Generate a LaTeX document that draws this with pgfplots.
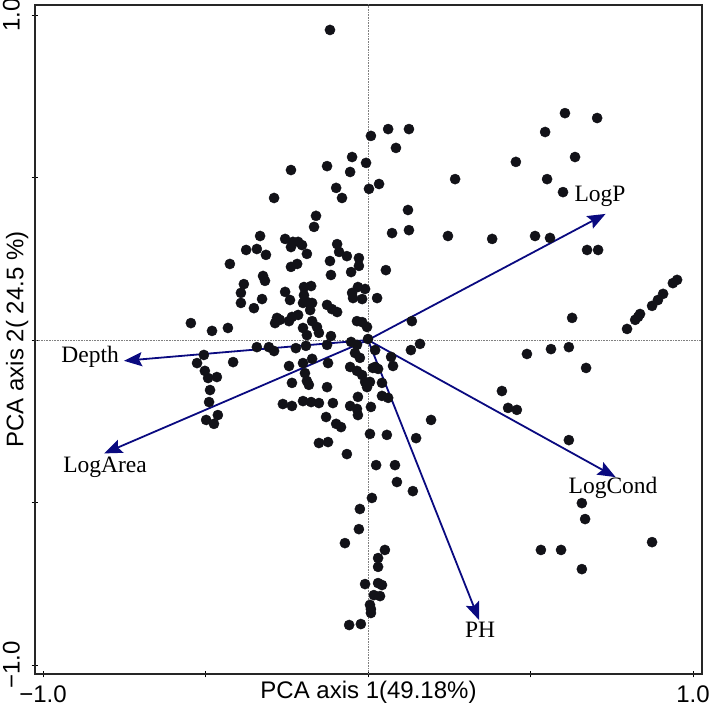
\documentclass[border=0pt]{standalone}
\usepackage{pgfplots}
\pgfplotsset{compat=1.18}
\usepackage{pgfplotstable}
\usepackage{fontspec}
\setmainfont{Liberation Sans}
\newfontfamily\seriffont{Liberation Serif}
\usetikzlibrary{arrows.meta}
\definecolor{ptcol}{RGB}{18,18,24}
\definecolor{arrcol}{RGB}{10,10,128}

\pgfplotstableread{
x y
0.009 0.628
-0.049 0.563
-0.006 0.545
-0.126 0.535
-0.237 0.523
-0.055 0.517
0.034 0.480
-0.098 0.468
-0.080 0.437
-0.289 0.437
-0.160 0.382
-0.166 0.348
-0.332 0.320
-0.255 0.311
-0.231 0.302
-0.215 0.302
-0.203 0.292
-0.237 0.286
-0.188 0.265
-0.375 0.277
-0.342 0.280
-0.314 0.262
-0.095 0.295
-0.089 0.271
-0.065 0.258
-0.028 0.252
-0.028 0.228
-0.425 0.234
-0.237 0.225
-0.218 0.234
-0.117 0.243
-0.114 0.200
-0.052 0.209
-0.323 0.197
-0.317 0.182
-0.382 0.172
-0.391 0.145
-0.391 0.114
-0.351 0.098
-0.326 0.126
-0.255 0.148
-0.240 0.123
-0.197 0.163
-0.175 0.166
-0.197 0.138
-0.188 0.117
-0.172 0.114
-0.178 0.092
-0.200 0.114
-0.126 0.108
-0.111 0.095
-0.095 0.086
-0.031 0.163
-0.009 0.157
-0.049 0.145
-0.046 0.129
-0.018 0.126
0.028 0.129
-0.545 0.052
-0.480 0.028
-0.431 0.037
-0.280 0.068
-0.286 0.052
-0.271 0.062
-0.243 0.058
-0.234 0.071
-0.215 0.077
-0.172 0.058
-0.200 0.037
-0.157 0.040
-0.188 0.015
-0.151 0.022
-0.114 0.012
-0.034 0.058
-0.018 0.055
-0.003 0.040
0.000 0.003
0.003 0.465
-0.342 -0.022
-0.305 -0.022
-0.289 -0.034
-0.222 -0.025
-0.191 -0.018
-0.126 -0.015
-0.052 -0.006
-0.034 -0.015
-0.505 -0.046
-0.526 -0.071
-0.415 -0.068
-0.243 -0.080
-0.200 -0.071
-0.172 -0.058
-0.123 -0.071
-0.025 -0.055
-0.040 -0.040
-0.502 -0.095
-0.492 -0.117
-0.465 -0.114
-0.194 -0.102
-0.055 -0.083
-0.034 -0.095
-0.018 -0.108
-0.009 -0.129
0.006 -0.129
-0.003 -0.145
0.022 -0.083
-0.188 -0.126
-0.182 -0.138
-0.486 -0.154
-0.234 -0.132
-0.126 -0.145
-0.489 -0.191
-0.262 -0.197
-0.234 -0.203
-0.200 -0.188
-0.175 -0.191
-0.151 -0.194
-0.108 -0.194
-0.031 -0.175
-0.055 -0.203
-0.034 -0.212
-0.031 -0.231
0.009 -0.206
-0.498 -0.246
-0.474 -0.258
-0.462 -0.231
-0.129 -0.237
-0.098 -0.258
-0.083 -0.268
0.006 -0.289
-0.151 -0.317
-0.123 -0.314
-0.065 -0.351
0.025 -0.385
0.012 -0.486
0.062 0.649
0.126 0.649
0.086 0.591
0.268 0.495
0.455 0.548
0.545 0.640
0.606 0.698
0.705 0.683
0.637 0.563
0.551 0.495
0.600 0.455
0.123 0.400
0.074 0.329
0.126 0.338
0.246 0.320
0.382 0.311
0.514 0.320
0.560 0.314
0.674 0.277
0.708 0.277
0.055 0.215
0.135 0.058
0.628 0.068
0.797 0.034
0.822 0.062
0.831 0.071
0.837 0.080
0.874 0.105
0.892 0.123
0.908 0.142
0.938 0.175
0.951 0.185
0.022 -0.031
0.132 -0.031
0.160 -0.012
0.071 -0.052
0.077 -0.080
0.015 -0.086
0.031 -0.089
0.043 -0.132
0.043 -0.172
0.062 -0.178
0.058 -0.292
0.148 -0.302
0.194 -0.246
0.489 -0.043
0.563 -0.028
0.618 -0.022
0.671 -0.086
0.412 -0.157
0.431 -0.209
0.458 -0.215
0.618 -0.308
0.083 -0.385
0.089 -0.437
0.138 -0.465
0.658 -0.502
0.668 -0.551
0.532 -0.646
0.594 -0.646
0.658 -0.705
0.874 -0.622
0.052 -0.646
0.031 -0.671
0.031 -0.698
0.031 -0.748
0.043 -0.754
0.018 -0.785
0.037 -0.788
0.006 -0.815
0.009 -0.840
0.009 -0.828
-0.025 -0.520
-0.028 -0.582
-0.071 -0.625
-0.009 -0.751
-0.058 -0.877
-0.022 -0.874
-0.117 0.954
}\pts

\begin{document}
\begin{tikzpicture}
\begin{axis}[
  scale only axis,
  width=667pt, height=669pt,
  xmin=-1.0246, xmax=1.0277,
  ymin=-1.0277, ymax=1.0308,
  axis line style={line width=1.1pt, black!85},
  xtick={-1,-0.5,0,0.5,1},
  ytick={-1,-0.5,0,0.5,1},
  xticklabels={−1.0,,,,1.0},
  yticklabels={−1.0,,,,1.0},
  tick pos=left,
  tick align=center,
  major tick length=7pt,
  tick style={line width=0.9pt, black},
  tick label style={font=\fontsize{24}{28}\selectfont, inner sep=0pt},
  xticklabel style={anchor=base},
  xticklabel shift=24.5pt,
  yticklabel style={rotate=90, anchor=south},
  yticklabel shift=11.5pt,
  label style={font=\fontsize{24}{28}\selectfont, inner sep=0pt},
  xlabel={PCA axis 1(49.18\%)},
  ylabel={PCA axis 2( 24.5 \%)},
  xlabel style={at={(axis description cs:0.5,-0.0366)}, anchor=base},
  ylabel style={at={(axis description cs:-0.01724,0.5)}, anchor=base, rotate=0},
]
\coordinate (SW) at (rel axis cs:0,0);
\coordinate (NE) at (rel axis cs:1,1);
\addplot[gray, line width=0.6pt, densely dotted, forget plot] coordinates {(0,-1.1) (0,1.1)};
\addplot[gray, line width=0.6pt, densely dotted, forget plot] coordinates {(-1.1,0) (1.1,0)};
\addplot[only marks, mark=*, mark size=5.1pt, mark options={fill=ptcol, draw=ptcol, line width=0.4pt}] table[x=x,y=y] {\pts};
\addplot[arrcol, line width=1.8pt, -{Stealth[length=18pt, width=14pt, inset=3pt]}] coordinates {(0,0) (0.731,0.388)};
\addplot[arrcol, line width=1.8pt, -{Stealth[length=18pt, width=14pt, inset=3pt]}] coordinates {(0,0) (0.762,-0.422)};
\addplot[arrcol, line width=1.8pt, -{Stealth[length=18pt, width=14pt, inset=3pt]}] coordinates {(0,0) (0.342,-0.862)};
\addplot[arrcol, line width=1.8pt, -{Stealth[length=18pt, width=14pt, inset=3pt]}] coordinates {(0,0) (-0.751,-0.064)};
\addplot[arrcol, line width=1.8pt, -{Stealth[length=18pt, width=14pt, inset=3pt]}] coordinates {(0,0) (-0.812,-0.349)};
\node[font=\seriffont\fontsize{23.5}{28}\selectfont, inner sep=0pt] at (axis cs:0.714,0.443) {LogP};
\node[font=\seriffont\fontsize{23.5}{28}\selectfont, inner sep=0pt] at (axis cs:0.754,-0.455) {LogCond};
\node[font=\seriffont\fontsize{23.5}{28}\selectfont, inner sep=0pt] at (axis cs:0.345,-0.892) {PH};
\node[font=\seriffont\fontsize{23.5}{28}\selectfont, inner sep=0pt] at (axis cs:-0.855,-0.052) {Depth};
\node[font=\seriffont\fontsize{23.5}{28}\selectfont, inner sep=0pt] at (axis cs:-0.809,-0.391) {LogArea};
\end{axis}
\pgfresetboundingbox
\path[use as bounding box] ([shift={(-35pt,-36pt)}]SW) rectangle ([shift={(7pt,5pt)}]NE);
\end{tikzpicture}
\end{document}
